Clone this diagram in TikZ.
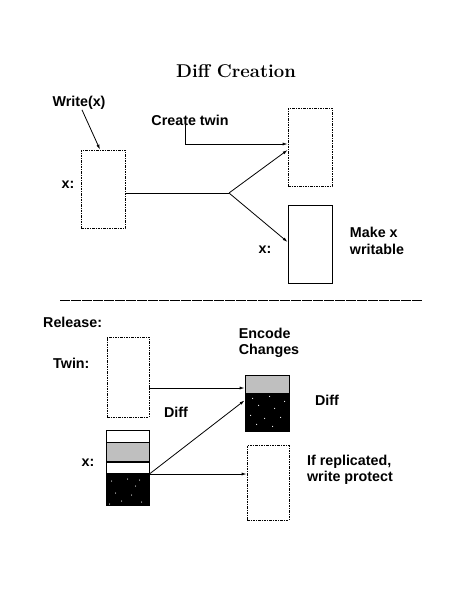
\documentclass[tikz,border=0pt]{standalone}
\usepackage{fontspec}
\newfontfamily\helv{Liberation Sans}
\usetikzlibrary{arrows.meta,positioning}

\tikzset{
    lbl/.style={font=\helv\bfseries\fontsize{14.3}{16.5}\selectfont, inner sep=0pt, align=left},
    dashbox/.style={draw, line width=0.8pt, dash pattern=on 2.5pt off 1.2pt on 0.6pt off 1.2pt, minimum width=44pt, minimum height=78pt, inner sep=0pt},
    solidbox/.style={draw, line width=0.8pt, minimum width=44pt, minimum height=78pt, inner sep=0pt},
    cell/.style={draw, line width=0.8pt, minimum width=43pt, inner sep=0pt},
    conn/.style={line width=0.8pt, -{Latex[length=5pt,width=3pt]}}
}

\begin{document}
\begin{tikzpicture}[x=1pt, y=-1pt]
    \useasboundingbox (0,0) rectangle (468,605);

    % upper part
    \node [font=\bfseries\fontsize{18.5}{20}\selectfont] (title) at (236,71) {Diff Creation};
    \node [lbl] (write) at (79,103) {Write(x)};
    \node [dashbox] (xbox) at (103,189) {};
    \node [lbl, left=6pt of xbox.170] (xlab) {x:};
    \node [lbl] (ctwin) at (190,120) {Create twin};
    \node [dashbox] (twin) at (310,147) {};
    \node [solidbox] (wrbox) at (310,244) {};
    \node [lbl] (xlab2) at (265,250) {x:};
    \node [lbl] (mkw) at (377,241) {Make x\\writable};
    \coordinate (branch) at (229,193);

    \draw [conn] ([xshift=3pt]write.south) -- ([xshift=-3pt]xbox.north);
    \draw [conn] ([xshift=-5pt]ctwin.south) |- ([yshift=3pt]twin.west);
    \draw [line width=0.8pt] (xbox.east |- branch) -- (branch);
    \draw [conn] (branch) -- ([yshift=-3pt]twin.west);
    \draw [conn] (branch) -- ([yshift=2pt]wrbox.west);

    % separator
    \draw [line width=0.8pt, dash pattern=on 10pt off 1pt] (60,300) -- (423,300);

    % lower part
    \node [lbl, anchor=west] (rel) at (43,322) {Release:};
    \node [lbl, anchor=west] (twinlab) at (53,363) {Twin:};
    \node [dashbox, minimum width=42pt, minimum height=80pt] (twinbox) at (128,377) {};
    \node [lbl] (enc) at (269,343) {Encode\\Changes};
    \node [cell, fill=black!25, minimum width=44pt, minimum height=18pt] (dgray) at (267,384) {};
    \node [cell, fill=black, minimum width=44pt, minimum height=38pt, below=0pt of dgray] (dblack) {};
    \node [lbl] (difflab) at (327,400) {Diff};
    \node [lbl] (diffmid) at (176,412) {Diff};

    \node [cell, minimum height=12pt] (s1) at (127.5,436) {};
    \node [cell, fill=black!25, minimum height=19pt, below=0pt of s1] (s2) {};
    \node [cell, minimum height=11pt, below=0pt of s2] (s3) {};
    \node [cell, fill=black, minimum height=31pt, below=0pt of s3] (s4) {};
    \node [lbl] (xlab3) at (88,463) {x:};

    \node [dashbox, minimum width=42pt, minimum height=75pt] (protect) at (268,482.5) {};
    \node [lbl] (prot) at (350,470) {If replicated,\\write protect};

    % white dots in the black cells
    \foreach \dx/\dy in {6/7, 22/5, 30/12, 10/19, 26/21, 16/27, 36/28, 4/30, 34/6} {
        \fill [white] ([xshift=\dx pt, yshift=-\dy pt]s4.north west) circle (0.6pt);
    }
    \foreach \dx/\dy in {8/5, 25/3, 30/15, 14/12, 6/22, 20/25, 36/24, 40/8, 12/31, 28/33} {
        \fill [white] ([xshift=\dx pt, yshift=-\dy pt]dblack.north west) circle (0.6pt);
    }

    \coordinate (dgin) at ([yshift=-4pt]dgray.west);
    \draw [conn] (twinbox.east |- dgin) -- (dgin);
    \draw [conn] (s4.north east) -- ([yshift=-7pt]dblack.north west);
    \draw [conn] (s4.north east) -- (s4.north east -| protect.west);
\end{tikzpicture}
\end{document}
